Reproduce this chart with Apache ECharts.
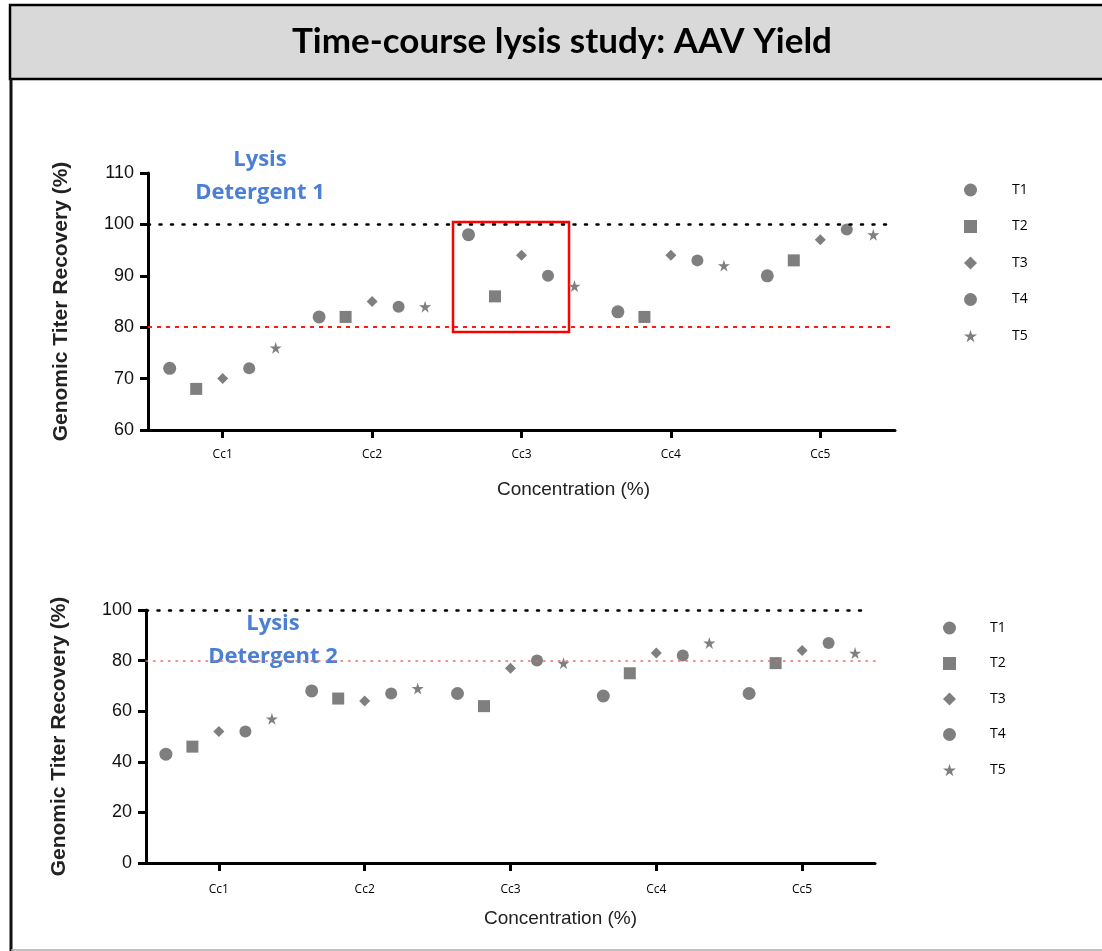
<!DOCTYPE html>
<html>
<head>
<meta charset="utf-8">
<script src="https://cdn.jsdelivr.net/npm/echarts@6/dist/echarts.min.js"></script>
<style>
html,body{margin:0;padding:0;background:#fff;}
#main{width:1102px;height:951px;}
</style>
</head>
<body>
<div id="main"></div>
<script>
// ---- data ----
const categories = ['Cc1', 'Cc2', 'Cc3', 'Cc4', 'Cc5'];
const seriesNames = ['T1', 'T2', 'T3', 'T4', 'T5'];
// Lysis Detergent 1 (top)
const d1T1 = [72, 82, 98, 83, 90];
const d1T2 = [68, 82, 86, 82, 93];
const d1T3 = [70, 85, 94, 94, 97];
const d1T4 = [72, 84, 90, 93, 99];
const d1T5 = [76, 84, 88, 92, 98];
// Lysis Detergent 2 (bottom)
const d2T1 = [43, 68, 67, 66, 67];
const d2T2 = [46, 65, 62, 75, 79];
const d2T3 = [52, 64, 77, 83, 84];
const d2T4 = [52, 67, 80, 82, 87];
const d2T5 = [57, 69, 79, 87, 83];
const targetLine = 100;
const thresholdLine = 80;
const yTicksTop = [60, 70, 80, 90, 100, 110];
const yTicksBottom = [0, 20, 40, 60, 80, 100];

// ---- styling ----
const GREY = '#7f7f7f';
const STAR = 'path://M50,0 L61,35 L98,35 L68,57 L79,91 L50,70 L21,91 L32,57 L2,35 L39,35 Z';
const symbols = ['circle', 'rect', 'diamond', 'circle', STAR];
const sizes = [13, 12, [11, 11], 12, 12];
const SPACING = 26.5;

const chart = echarts.init(document.getElementById('main'));

function makeSeries(dataArrs, idx, lines) {
  return dataArrs.map((arr, k) => {
    const s = {
      name: seriesNames[k],
      type: 'scatter',
      xAxisIndex: idx,
      yAxisIndex: idx,
      data: arr,
      symbol: symbols[k],
      symbolSize: sizes[k],
      symbolOffset: [(k - 2) * SPACING, 0],
      itemStyle: { color: GREY, opacity: 1 },
      emphasis: { disabled: true },
      silent: true
    };
    if (k === 0) {
      s.markLine = {
        silent: true,
        symbol: 'none',
        label: { show: false },
        animation: false,
        data: lines
      };
    }
    return s;
  });
}

const linesTop = [
  { yAxis: targetLine, lineStyle: { color: '#000', width: 2.5, type: [2, 9.5], cap: 'round' } },
  { yAxis: thresholdLine, lineStyle: { color: '#ff1a1a', width: 2, type: [4, 5] } }
];
const linesBottom = [
  [{ yAxis: targetLine, x: 146 }, { yAxis: targetLine, x: 866, lineStyle: { color: '#000', width: 2.5, type: [2, 9.5], cap: 'round' } }],
  { yAxis: thresholdLine, lineStyle: { color: '#e86a6a', width: 1.5, type: [1.5, 6], cap: 'round' } }
];

function yAxis(idx, min, max, interval, gap) {
  return {
    type: 'value', gridIndex: idx, min: min, max: max, interval: interval,
    name: 'Genomic Titer Recovery (%)', nameLocation: 'middle', nameGap: gap,
    nameTextStyle: { fontFamily: 'Liberation Sans', fontWeight: 'bold', fontSize: 21, color: '#222' },
    axisLine: { show: true, lineStyle: { color: '#000', width: 3 } },
    axisTick: { show: true, length: 8, lineStyle: { color: '#000', width: 3 } },
    axisLabel: { fontFamily: 'Liberation Sans', fontSize: 18, color: '#111', margin: 14 },
    splitLine: { show: false }
  };
}
function xAxis(idx, gap, pad, margin) {
  return {
    type: 'category', gridIndex: idx, data: categories, boundaryGap: true,
    name: 'Concentration (%)', nameLocation: 'middle', nameGap: gap,
    nameTextStyle: { fontFamily: 'Liberation Sans', fontSize: 19, color: '#222', padding: [0, 0, 0, pad] },
    axisLine: { show: true, lineStyle: { color: '#000', width: 3 } },
    axisTick: { show: true, alignWithLabel: true, length: 8, lineStyle: { color: '#000', width: 3 } },
    axisLabel: { fontFamily: 'Open Sans', fontSize: 12, color: '#000', margin: margin },
    splitLine: { show: false }
  };
}
function legend(left, top, gap, pad) {
  return {
    orient: 'vertical', left: left, top: top, itemGap: gap,
    itemWidth: 13, itemHeight: 13,
    data: seriesNames,
    selectedMode: false,
    textStyle: { fontFamily: 'Open Sans', fontSize: 14, color: '#000', padding: [0, 0, 0, pad] }
  };
}

const option = {
  animation: false,
  backgroundColor: '#fff',
  grid: [
    { left: 148, right: 207, top: 173, height: 257 },
    { left: 146, right: 227, top: 610, height: 253 }
  ],
  xAxis: [xAxis(0, 50, 104, 19), xAxis(1, 46, 100, 21)],
  yAxis: [yAxis(0, 60, 110, 10, 76), yAxis(1, 0, 100, 20, 76)],
  legend: [legend(959, 178, 22.5, 30), legend(938, 616, 21.5, 29)],
  series: [].concat(
    makeSeries([d1T1, d1T2, d1T3, d1T4, d1T5], 0, linesTop),
    makeSeries([d2T1, d2T2, d2T3, d2T4, d2T5], 1, linesBottom)
  ),
  graphic: [
    { type: 'rect', z: 0, shape: { x: 10, y: 5, width: 1100, height: 74 },
      style: { fill: '#d9d9d9', stroke: '#000', lineWidth: 2.5 } },
    { type: 'line', shape: { x1: 11, y1: 79, x2: 11, y2: 951 }, style: { stroke: '#111', lineWidth: 3 } },
    { type: 'line', shape: { x1: 11, y1: 950, x2: 1102, y2: 950 }, style: { stroke: '#aaa', lineWidth: 1.5 } },
    { type: 'text', x: 562, y: 42, style: { text: 'Time-course lysis study: AAV Yield', fontFamily: 'Lato', fontWeight: 'bold', fontSize: 35, fill: '#000', align: 'center', verticalAlign: 'middle' } },
    { type: 'text', x: 260, y: 160, style: { text: 'Lysis', fontFamily: 'Open Sans', fontWeight: 'bold', fontSize: 22, fill: '#4a7fd4', align: 'center', verticalAlign: 'middle' } },
    { type: 'text', x: 260, y: 193, style: { text: 'Detergent 1', fontFamily: 'Open Sans', fontWeight: 'bold', fontSize: 22, fill: '#4a7fd4', align: 'center', verticalAlign: 'middle' } },
    { type: 'text', x: 273, y: 624, style: { text: 'Lysis', fontFamily: 'Open Sans', fontWeight: 'bold', fontSize: 22, fill: '#4a7fd4', align: 'center', verticalAlign: 'middle' } },
    { type: 'text', x: 273, y: 657, style: { text: 'Detergent 2', fontFamily: 'Open Sans', fontWeight: 'bold', fontSize: 22, fill: '#4a7fd4', align: 'center', verticalAlign: 'middle' } },
    { type: 'rect', shape: { x: 453, y: 222, width: 116, height: 110 },
      style: { fill: 'none', stroke: '#ff0000', lineWidth: 2.5 } }
  ]
};
chart.setOption(option);
</script>
</body>
</html>
